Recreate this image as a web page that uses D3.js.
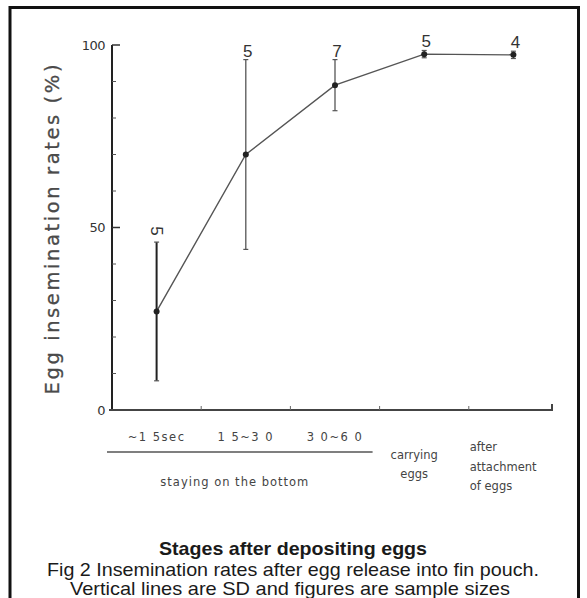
<!DOCTYPE html>
<html><head><meta charset="utf-8">
<script src="https://cdn.jsdelivr.net/npm/d3@7/dist/d3.min.js"></script>
<style>
html,body{margin:0;padding:0;background:#fff;}
svg{display:block;}
</style></head>
<body>
<svg id="chart" width="587" height="598"></svg>
<script>
// ---- data ----
const categories = ["~15sec", "15~30", "30~60", "carrying eggs", "after attachment of eggs"];
const categoryLines = [["~1 5sec"], ["1 5~3 0"], ["3 0~6 0"], ["carrying", "eggs"], ["after", "attachment", "of eggs"]];
const means = [27, 70, 89, 97.5, 97.3];
const sds = [19, 26, 7, 1, 1];
const sampleSizes = [5, 5, 7, 5, 4];
const yTicksMajor = [0, 50, 100];
const yTicksMinor = [10, 20, 30, 40, 60, 70, 80, 90];
const groupLabel = "staying on the bottom";
const groupCount = 3;
const yTitle = "Egg insemination rates (%)";
const xTitle = "Stages after depositing eggs";
const caption = ["Fig 2 Insemination rates after egg release into fin pouch.",
                 "Vertical lines are SD and figures are sample sizes"];

// ---- layout ----
const svg = d3.select("#chart");
const x = d3.scaleBand().domain(categories).range([112, 558]);
const y = d3.scaleLinear().domain([0, 100]).range([410, 45]);
const cx = c => x(c) + x.bandwidth() / 2;

// frame
svg.append("path").attr("d", "M10,598 V7.5 H578.5 V598")
  .attr("fill", "none").attr("stroke", "#111").attr("stroke-width", 3);

// y axis
svg.append("line").attr("x1", 112).attr("x2", 112).attr("y1", y(100)).attr("y2", y(0))
  .attr("stroke", "#222").attr("stroke-width", 2);
svg.selectAll(".ymaj").data(yTicksMajor.filter(d => d > 0)).join("line")
  .attr("x1", 112).attr("x2", 120).attr("y1", d => y(d)).attr("y2", d => y(d))
  .attr("stroke", "#333").attr("stroke-width", 1.5);
svg.selectAll(".ymin").data(yTicksMinor).join("line")
  .attr("x1", 112).attr("x2", 116).attr("y1", d => y(d)).attr("y2", d => y(d))
  .attr("stroke", "#555").attr("stroke-width", 1);
svg.selectAll(".ylab").data(yTicksMajor).join("text")
  .attr("x", 105).attr("y", d => y(d)).attr("dy", "0.36em")
  .attr("text-anchor", "end").attr("font-family", "DejaVu Sans").attr("font-size", 13)
  .attr("fill", "#333").attr("letter-spacing", -0.5).text(d => d);

// y title
svg.append("text").attr("transform", `translate(59,${(y(0) + y(100)) / 2 + 2}) rotate(-90)`)
  .attr("text-anchor", "middle").attr("font-family", "DejaVu Sans").attr("font-size", 19.5)
  .attr("fill", "#4a4a4a").attr("stroke", "#4a4a4a").attr("stroke-width", 0.3)
  .attr("textLength", 330).attr("lengthAdjust", "spacing").text(yTitle);

// x axis
svg.append("path").attr("d", `M109,${y(0)} H552 V${y(0) - 6}`)
  .attr("fill", "none").attr("stroke", "#444").attr("stroke-width", 2);
svg.selectAll(".xt").data(categories.slice(1)).join("line")
  .attr("x1", d => x(d)).attr("x2", d => x(d)).attr("y1", y(0)).attr("y2", y(0) - 4)
  .attr("stroke", "#666").attr("stroke-width", 1);

// category labels
const lab = svg.append("g").attr("font-family", "DejaVu Sans").attr("fill", "#444");
categoryLines.forEach((lines, i) => {
  const c = categories[i];
  if (i < groupCount) {
    lab.append("text").attr("x", cx(c)).attr("y", 441).attr("text-anchor", "middle")
      .attr("font-size", 11.5).attr("letter-spacing", 1.5).text(lines[0]);
  } else if (i === groupCount) {
    lines.forEach((t, j) => lab.append("text").attr("x", cx(c) - 10).attr("y", 459 + j * 19)
      .attr("text-anchor", "middle").attr("font-size", 11.5).text(t));
  } else {
    lines.forEach((t, j) => lab.append("text").attr("x", x(c) + 1).attr("y", 451 + j * 19.5)
      .attr("text-anchor", "start").attr("font-size", 11.5).text(t));
  }
});
// group underline + label
const gx0 = 107, gx1 = x(categories[groupCount - 1]) + x.bandwidth() - 7;
svg.append("line").attr("x1", gx0).attr("x2", gx1).attr("y1", 452).attr("y2", 452)
  .attr("stroke", "#555").attr("stroke-width", 1.5);
lab.append("text").attr("x", (gx0 + gx1) / 2 - 5).attr("y", 486).attr("text-anchor", "middle")
  .attr("font-size", 11.5).attr("letter-spacing", 1).text(groupLabel);

// data
const pts = categories.map((c, i) => ({ c, m: means[i], s: sds[i], n: sampleSizes[i], i }));
svg.append("path").datum(pts)
  .attr("d", d3.line().x(d => cx(d.c)).y(d => y(d.m)))
  .attr("fill", "none").attr("stroke", "#555").attr("stroke-width", 1.4);
const eb = svg.selectAll(".eb").data(pts).join("g");
eb.append("line").attr("x1", d => cx(d.c)).attr("x2", d => cx(d.c))
  .attr("y1", d => y(d.m + d.s)).attr("y2", d => y(d.m - d.s))
  .attr("stroke", d => d.i === 0 ? "#222" : "#555").attr("stroke-width", d => d.i === 0 ? 2 : 1.3);
eb.selectAll(".cap").data(d => [d.m + d.s, d.m - d.s].map(v => ({ v, d }))).join("line")
  .attr("x1", e => cx(e.d.c) - 2.5).attr("x2", e => cx(e.d.c) + 2.5)
  .attr("y1", e => y(e.v)).attr("y2", e => y(e.v)).attr("stroke", "#555").attr("stroke-width", 1.2);
eb.append("circle").attr("cx", d => cx(d.c)).attr("cy", d => y(d.m)).attr("r", 3).attr("fill", "#222");

// sample sizes
svg.selectAll(".n").data(pts).join("text")
  .attr("transform", d => d.i === 0
      ? `translate(${cx(d.c) - 6},${y(d.m + d.s) - 11}) rotate(90)`
      : `translate(${cx(d.c) + 2},${y(d.m + d.s) - 3})`)
  .attr("text-anchor", "middle")
  .attr("font-family", "Liberation Sans").attr("font-size", 17).attr("fill", "#333")
  .text(d => d.n);

// titles
svg.append("text").attr("x", 293).attr("y", 555).attr("text-anchor", "middle")
  .attr("font-family", "Liberation Sans").attr("font-weight", "bold").attr("font-size", 19)
  .attr("fill", "#1a1a1a").attr("textLength", 268).attr("lengthAdjust", "spacingAndGlyphs").text(xTitle);
svg.append("text").attr("x", 293).attr("y", 576).attr("text-anchor", "middle")
  .attr("font-family", "Liberation Sans").attr("font-size", 18.5)
  .attr("fill", "#1a1a1a").attr("textLength", 492).attr("lengthAdjust", "spacingAndGlyphs").text(caption[0]);
svg.append("text").attr("x", 290).attr("y", 595).attr("text-anchor", "middle")
  .attr("font-family", "Liberation Sans").attr("font-size", 18.5)
  .attr("fill", "#1a1a1a").attr("textLength", 440).attr("lengthAdjust", "spacingAndGlyphs").text(caption[1]);
</script>
</body></html>
